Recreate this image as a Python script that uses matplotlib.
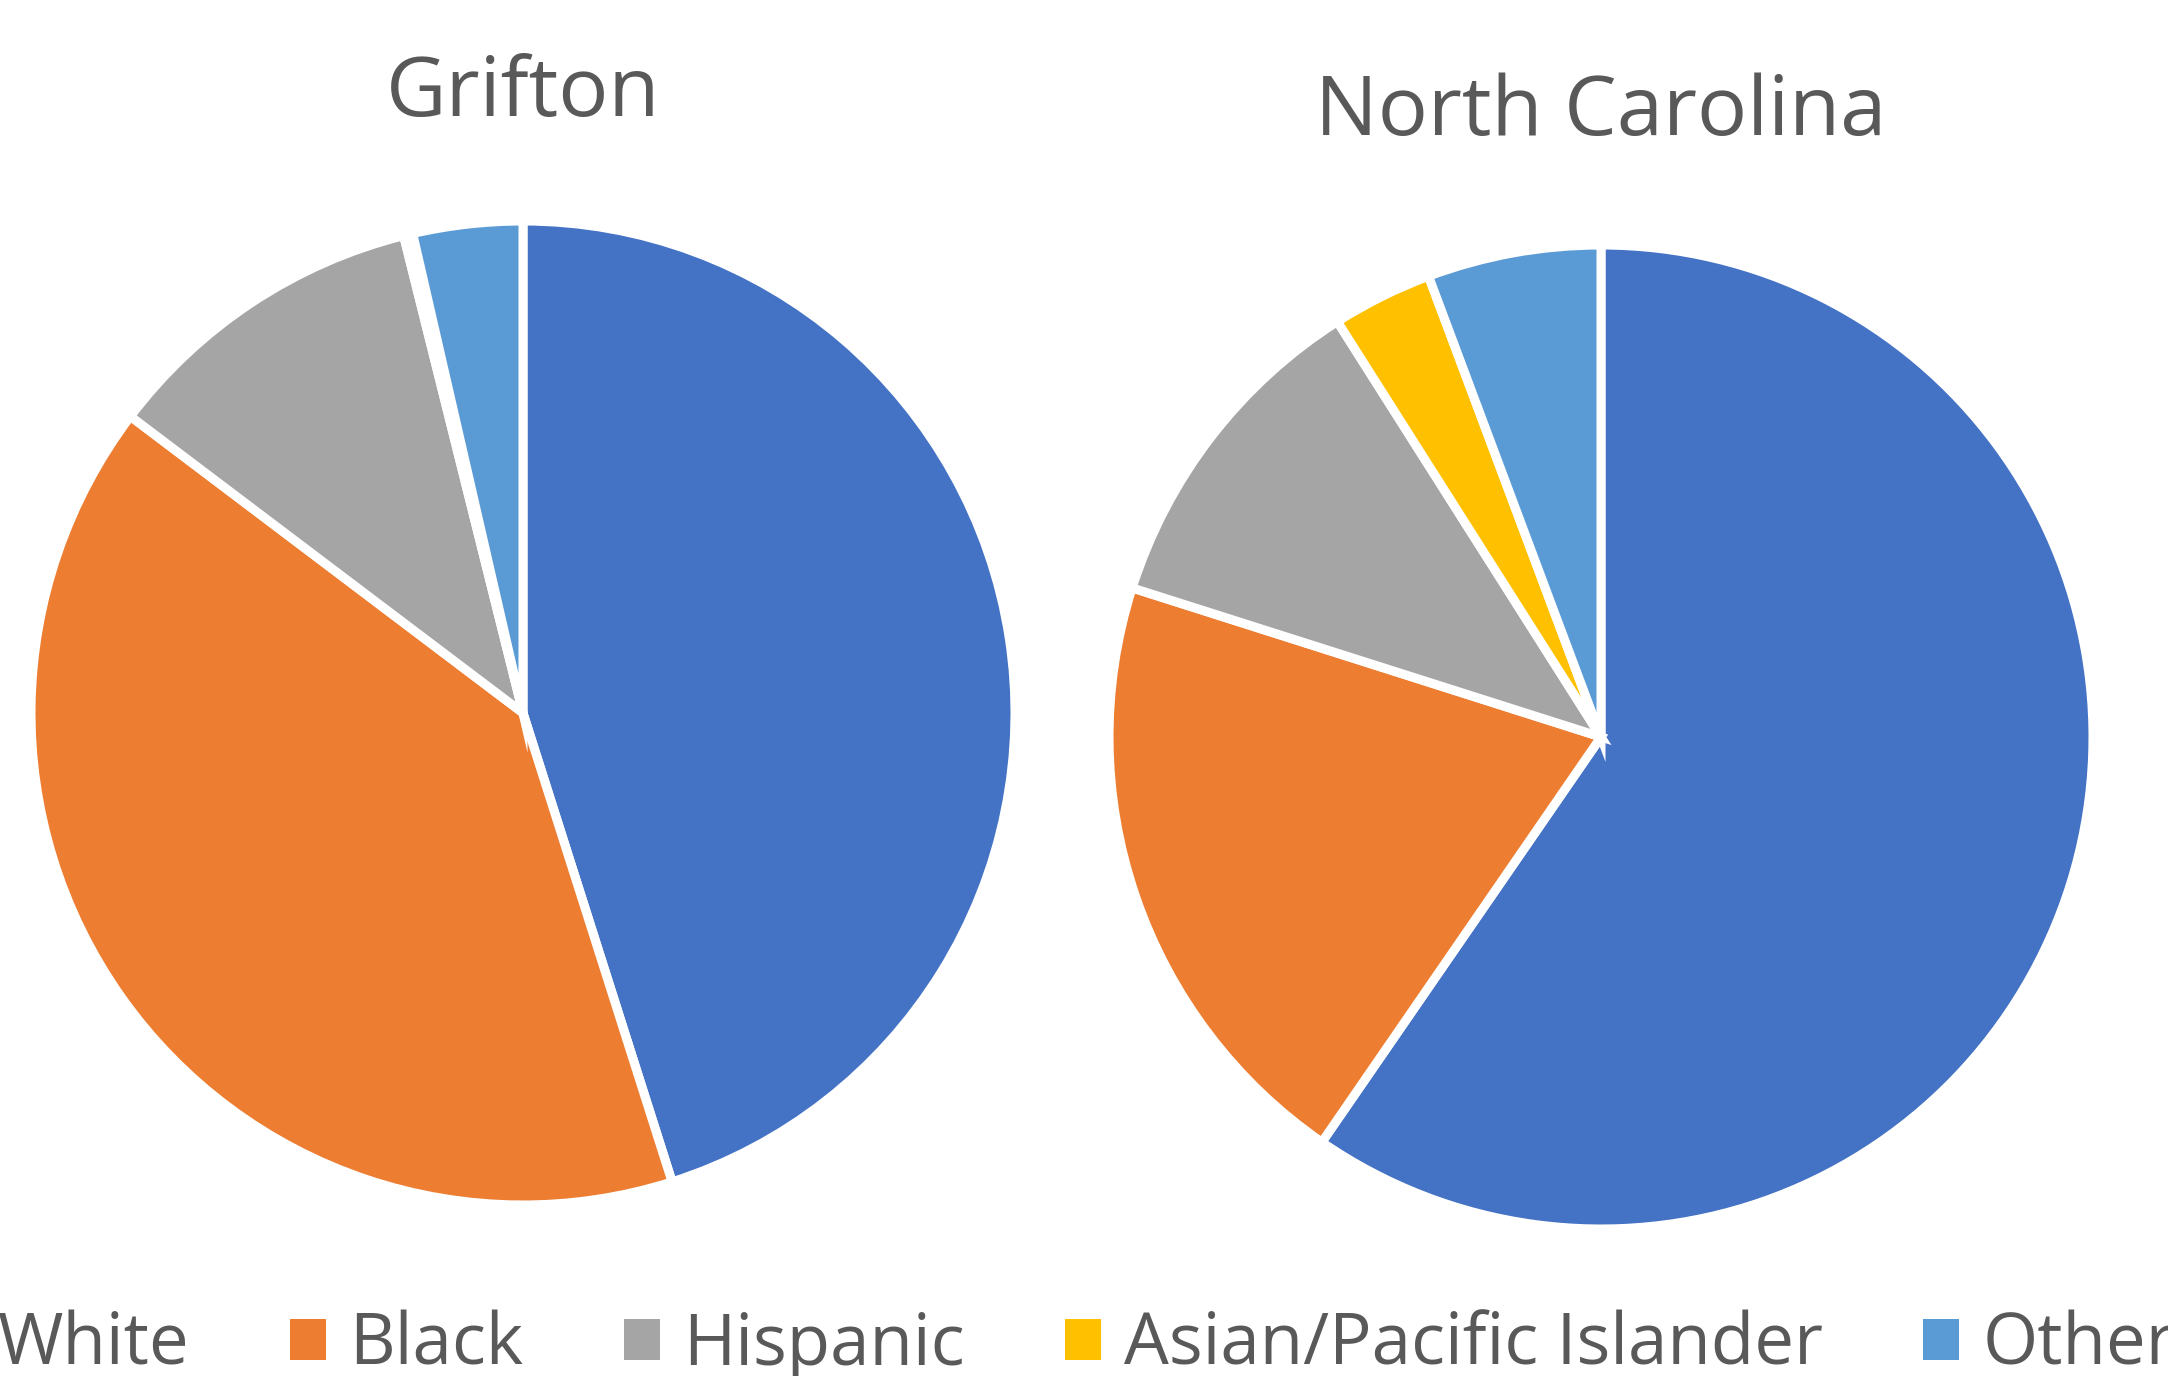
import matplotlib
matplotlib.use("Agg")
import matplotlib.pyplot as plt
from matplotlib.patches import Patch

categories = ["White", "Black", "Hispanic", "Asian/Pacific Islander", "Other"]
grifton = [45.1, 40.2, 10.8, 0.3, 3.6]
north_carolina = [59.6, 20.3, 11.1, 3.3, 5.7]
titles = ["Grifton", "North Carolina"]
colors = ["#4472C4", "#ED7D31", "#A5A5A5", "#FFC000", "#5B9BD5"]

plt.rcParams['font.family'] = ['Open Sans', 'DejaVu Sans']
W, H = 2168, 1376
fig = plt.figure(figsize=(W / 100, H / 100), dpi=100)
text_color = "#595959"

def add_pie(cx, cy, r, values):
    ax = fig.add_axes([(cx - r) / W, 1 - (cy + r) / H, 2 * r / W, 2 * r / H])
    ax.pie(values, colors=colors, startangle=90, counterclock=False,
           wedgeprops=dict(edgecolor="white", linewidth=6.5))
    ax.set_xlim(-1, 1)
    ax.set_ylim(-1, 1)
    ax.set_aspect("equal")
    ax.axis("off")
    return ax

add_pie(523, 713, 492, grifton)
add_pie(1601, 737, 492, north_carolina)

fig.text(523 / W, 1 - 116 / H, titles[0], ha="center", va="baseline",
         fontsize=60, color=text_color)
fig.text(1601 / W, 1 - 135 / H, titles[1], ha="center", va="baseline",
         fontsize=60, color=text_color)

handles = [Patch(facecolor=c, edgecolor="none") for c in colors]
leg = fig.legend(handles, categories, loc="center", ncol=5,
                 bbox_to_anchor=(1057 / W, 1 - 1346 / H), frameon=False,
                 fontsize=51, handlelength=0.51, handleheight=0.51,
                 handletextpad=0.33, columnspacing=1.41, borderpad=0,
                 labelcolor=text_color)

fig.savefig("out.png", dpi=100)
